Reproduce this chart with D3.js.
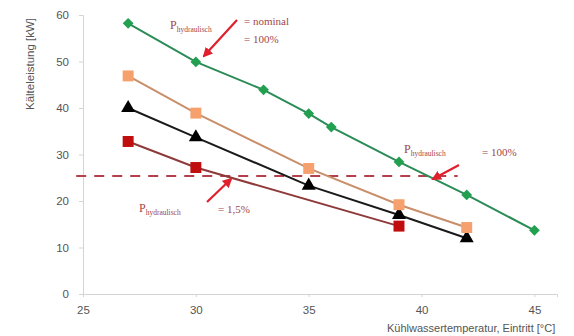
<!DOCTYPE html>
<html>
<head>
<meta charset="utf-8">
<script src="https://cdn.jsdelivr.net/npm/d3@7"></script>
<style>
  html, body { margin: 0; padding: 0; background: #fff; }
  svg { display: block; }
</style>
</head>
<body>
<svg id="chart" width="574" height="336"></svg>
<script>
// Cooling capacity vs. cooling water inlet temperature
const greenX = [27, 30, 33, 35, 36, 39, 42, 45];
const greenY = [58.2, 49.9, 43.9, 38.8, 35.9, 28.4, 21.3, 13.7];
const orangeX = [27, 30, 35, 39, 42];
const orangeY = [46.9, 38.9, 27.0, 19.2, 14.3];
const blackX = [27, 30, 35, 39, 42];
const blackY = [40.0, 33.7, 23.3, 17.0, 12.0];
const redX = [27, 30, 39];
const redY = [32.8, 27.2, 14.6];
const thresholdY = 25.4;
const thresholdXEnd = 41.6;
const xTicks = [25, 30, 35, 40, 45];
const yTicks = [0, 10, 20, 30, 40, 50, 60];

const svg = d3.select("#chart");
const x = d3.scaleLinear().domain([25, 46]).range([83, 557]);
const y = d3.scaleLinear().domain([0, 60]).range([294, 15]);

// axes
const xAxis = svg.append("g").attr("transform", `translate(0,${y(0)})`)
  .call(d3.axisBottom(x).tickValues(xTicks).tickSize(3).tickPadding(9));
const yAxis = svg.append("g").attr("transform", `translate(${x(25)},0)`)
  .call(d3.axisLeft(y).tickValues(yTicks).tickSize(4).tickPadding(10));
[xAxis, yAxis].forEach(g => {
  g.select(".domain").attr("stroke", "#d4d4d4").attr("stroke-width", 1);
  g.selectAll(".tick line").attr("stroke", "#d4d4d4");
  g.selectAll(".tick text").attr("fill", "#555").attr("font-size", 11.5)
    .attr("font-family", "Liberation Sans, Arial, sans-serif");
});

svg.append("text")
  .attr("transform", `translate(34,64) rotate(-90)`)
  .attr("text-anchor", "middle")
  .attr("font-family", "Liberation Sans, Arial, sans-serif")
  .attr("font-size", 11.5).attr("fill", "#555")
  .text("Kälteleistung [kW]");
svg.append("text")
  .attr("x", 387).attr("y", 332)
  .attr("font-family", "Liberation Sans, Arial, sans-serif")
  .attr("font-size", 11).attr("fill", "#555")
  .text("Kühlwassertemperatur, Eintritt [°C]");

// threshold line
svg.append("line")
  .attr("x1", x(24.7)).attr("x2", x(thresholdXEnd))
  .attr("y1", y(thresholdY)).attr("y2", y(thresholdY))
  .attr("stroke", "#b4404e").attr("stroke-width", 2)
  .attr("stroke-dasharray", "10,8");

const line = d3.line().x(d => x(d[0])).y(d => y(d[1]));
const series = [
  { xs: redX, ys: redY, line: "#8e3a3a", fill: "#c00d0d", shape: d3.symbolSquare, size: 120, rot: 0 },
  { xs: blackX, ys: blackY, line: "#1a1a1a", fill: "#000", shape: d3.symbolTriangle, size: 85, rot: 0 },
  { xs: orangeX, ys: orangeY, line: "#c98e6a", fill: "#f6a06e", shape: d3.symbolSquare, size: 120, rot: 0 },
  { xs: greenX, ys: greenY, line: "#2b8c57", fill: "#22a050", shape: d3.symbolSquare, size: 58, rot: 45 }
];
series.forEach(s => {
  const pts = s.xs.map((v, i) => [v, s.ys[i]]);
  svg.append("path").datum(pts).attr("d", line)
    .attr("fill", "none").attr("stroke", s.line).attr("stroke-width", 2);
  svg.append("g").selectAll("path").data(pts).join("path")
    .attr("transform", d => `translate(${x(d[0])},${y(d[1])}) rotate(${s.rot})`)
    .attr("d", d3.symbol().type(s.shape).size(s.size))
    .attr("fill", s.fill);
});

// annotations
const defs = svg.append("defs");
defs.append("marker").attr("id", "arr").attr("viewBox", "0 0 10 10")
  .attr("refX", 8).attr("refY", 5).attr("markerWidth", 4.5).attr("markerHeight", 4.5)
  .attr("orient", "auto")
  .append("path").attr("d", "M0,0 L10,5 L0,10 z").attr("fill", "#e0202c");

function arrow(x1, y1, x2, y2) {
  svg.append("line").attr("x1", x1).attr("y1", y1).attr("x2", x2).attr("y2", y2)
    .attr("stroke", "#e0202c").attr("stroke-width", 2.2).attr("marker-end", "url(#arr)");
}
const textColor = "#a0464a";
function pLabel(px, py) {
  const t = svg.append("text").attr("x", px).attr("y", py)
    .attr("font-family", "Liberation Serif, Times New Roman, serif")
    .attr("fill", textColor).attr("font-size", 12);
  t.append("tspan").text("P");
  t.append("tspan").attr("dy", 3).attr("font-size", 7.5).text("hydraulisch");
}
function eqLabel(px, py, txt) {
  svg.append("text").attr("x", px).attr("y", py)
    .attr("font-family", "Liberation Serif, Times New Roman, serif")
    .attr("fill", textColor).attr("font-size", 11).text(txt);
}
pLabel(170, 29);
eqLabel(244, 25, "= nominal");
eqLabel(244, 43, "= 100%");
arrow(237, 20, 204, 56);

pLabel(404, 153);
eqLabel(482, 156, "= 100%");
arrow(459, 165, 433, 179);

pLabel(139, 212);
eqLabel(218, 213, "= 1,5%");
arrow(207, 202, 231, 179);
</script>
</body>
</html>
